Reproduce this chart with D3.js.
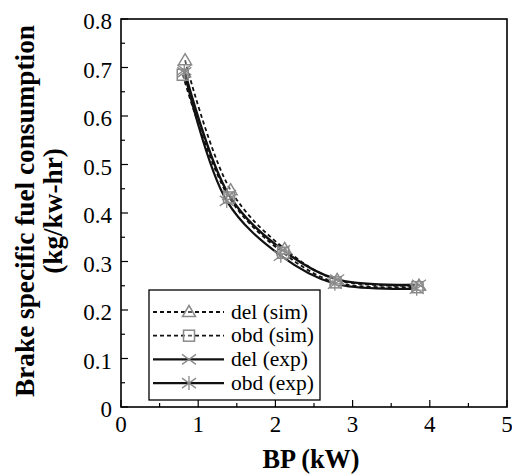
<!DOCTYPE html>
<html><head><meta charset="utf-8">
<script src="https://cdn.jsdelivr.net/npm/d3@7"></script>
<style>body{margin:0;background:#fff}svg{display:block}text{font-family:"Liberation Serif","Times New Roman",Times,serif}</style>
</head><body>
<svg id="c" width="512" height="475"></svg>
<script>
const xTicks = [0,1,2,3,4,5];
const yTicks = [0,0.1,0.2,0.3,0.4,0.5,0.6,0.7,0.8];
const seriesNames = ["del (sim)","obd (sim)","del (exp)","obd (exp)"];
const delSimX = [0.83,1.42,2.12,2.80,3.86];
const delSimY = [0.715,0.447,0.326,0.262,0.250];
const obdSimX = [0.80,1.40,2.10,2.78,3.84];
const obdSimY = [0.685,0.432,0.318,0.257,0.247];
const delExpX = [0.82,1.40,2.10,2.80,3.86];
const delExpY = [0.695,0.437,0.323,0.263,0.252];
const obdExpX = [0.82,1.37,2.07,2.77,3.83];
const obdExpY = [0.690,0.425,0.312,0.254,0.244];

const svg = d3.select("#c");
const L=121,R=507,T=19,B=407;
const x = d3.scaleLinear().domain([0,5]).range([L,R]);
const y = d3.scaleLinear().domain([0,0.8]).range([B,T]);

function fit(sel, target){
  const n = sel.node();
  const fs = parseFloat(sel.attr("font-size"));
  const len = n.getComputedTextLength();
  if(len>0) sel.attr("font-size", (fs*target/len).toFixed(2));
  return sel;
}

// frame
svg.append("rect").attr("x",L).attr("y",T).attr("width",R-L).attr("height",B-T)
  .attr("fill","none").attr("stroke","#000").attr("stroke-width",1.6);

// ticks (inward)
const gx = svg.append("g");
d3.range(0,5.01,0.5).forEach(v=>{
  const major = Math.abs(v-Math.round(v))<1e-6;
  gx.append("line").attr("x1",x(v)).attr("x2",x(v)).attr("y1",B).attr("y2",B-(major?7:4))
    .attr("stroke","#000").attr("stroke-width",1.2);
});
d3.range(0,0.801,0.05).forEach(v=>{
  const major = Math.abs(v*10-Math.round(v*10))<1e-6;
  gx.append("line").attr("x1",L).attr("x2",L+(major?7:4)).attr("y1",y(v)).attr("y2",y(v))
    .attr("stroke","#000").attr("stroke-width",1.2);
});
xTicks.forEach(v=>{
  svg.append("text").attr("x",x(v)).attr("y",432).attr("text-anchor","middle")
    .attr("font-size",23).text(v);
});
yTicks.forEach(v=>{
  svg.append("text").attr("x",112).attr("y",y(v)+10).attr("text-anchor","end")
    .attr("font-size",23).text(v===0?"0":v.toFixed(1));
});

// titles
fit(svg.append("text").attr("x",311).attr("y",468).attr("text-anchor","middle")
  .attr("font-weight","bold").attr("font-size",20).text("BP (kW)"), 97);
const t1 = fit(svg.append("text").attr("transform","translate(34,211) rotate(-90)").attr("text-anchor","middle")
  .attr("font-weight","bold").attr("font-size",20).text("Brake specific fuel consumption"), 372);
svg.append("text").attr("transform","translate(62,211) rotate(-90)").attr("text-anchor","middle")
  .attr("font-weight","bold").attr("font-size",t1.attr("font-size")).text("(kg/kw-hr)");

const series = [
  {name:seriesNames[0], xs:delSimX, ys:delSimY, dash:"4,3", w:1.8, m:"tri"},
  {name:seriesNames[1], xs:obdSimX, ys:obdSimY, dash:"4,3", w:1.8, m:"sq"},
  {name:seriesNames[2], xs:delExpX, ys:delExpY, dash:null, w:2.4, m:"x"},
  {name:seriesNames[3], xs:obdExpX, ys:obdExpY, dash:null, w:2.2, m:"star"}
];
const line = d3.line().x(d=>x(d[0])).y(d=>y(d[1])).curve(d3.curveCatmullRom.alpha(0.5));
const mk = "#8a8a8a";
function marker(g,type,cx,cy){
  if(type==="tri"){
    g.append("path").attr("d",`M${cx},${cy-6.5}L${cx+6.5},${cy+4.5}L${cx-6.5},${cy+4.5}Z`)
      .attr("fill","#fff").attr("fill-opacity",0.3).attr("stroke",mk).attr("stroke-width",1.5);
  } else if(type==="sq"){
    g.append("rect").attr("x",cx-5.5).attr("y",cy-5.5).attr("width",11).attr("height",11)
      .attr("fill","#fff").attr("fill-opacity",0.3).attr("stroke",mk).attr("stroke-width",1.5);
  } else if(type==="x"){
    g.append("path").attr("d",`M${cx-7},${cy-5}L${cx+7},${cy+5}M${cx-7},${cy+5}L${cx+7},${cy-5}`)
      .attr("stroke",mk).attr("stroke-width",1.3);
  } else {
    g.append("path").attr("d",`M${cx-7},${cy-5}L${cx+7},${cy+5}M${cx-7},${cy+5}L${cx+7},${cy-5}M${cx},${cy-7}L${cx},${cy+7}`)
      .attr("stroke",mk).attr("stroke-width",1.3);
  }
}
const plot = svg.append("g");
series.forEach(s=>{
  const pts = s.xs.map((v,i)=>[v,s.ys[i]]);
  plot.append("path").attr("d",line(pts)).attr("fill","none").attr("stroke","#111")
    .attr("stroke-width",s.w).attr("stroke-dasharray",s.dash);
});
series.forEach(s=>{
  s.xs.forEach((v,i)=>marker(plot,s.m,x(v),y(s.ys[i])));
});

// legend
const lg = svg.append("g");
lg.append("rect").attr("x",149).attr("y",290).attr("width",171).attr("height",110)
  .attr("fill","#fff").attr("stroke","#000").attr("stroke-width",1.3);
series.forEach((s,i)=>{
  const cy = 312 + i*23.7;
  lg.append("line").attr("x1",153).attr("x2",224).attr("y1",cy).attr("y2",cy)
    .attr("stroke","#111").attr("stroke-width",s.w).attr("stroke-dasharray",s.dash);
  marker(lg,s.m,189,cy);
  lg.append("text").attr("x",231).attr("y",cy+6.5).attr("font-size",21.5).text(s.name);
});
</script>
</body></html>
